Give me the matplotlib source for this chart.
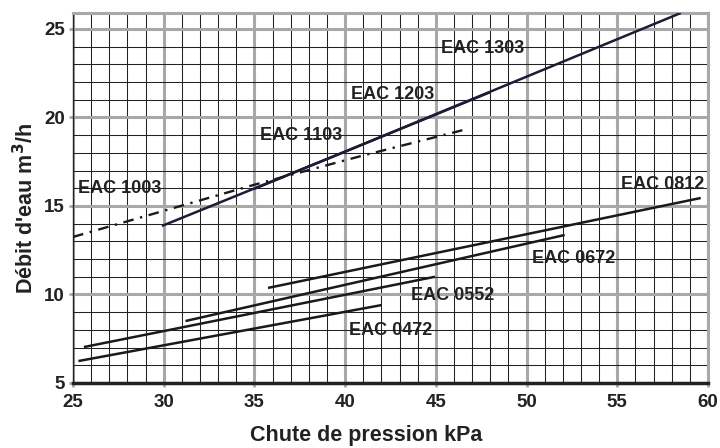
import matplotlib
matplotlib.use("Agg")
import matplotlib.pyplot as plt
from matplotlib.ticker import MultipleLocator

plt.rcParams['font.family'] = ['Liberation Sans', 'DejaVu Sans']

# ---- data ----
eac1103_x = [29.9, 40.0]
eac1103_y = [13.87, 18.07]
eac1203_x = [35.0, 48.0]
eac1203_y = [15.97, 21.43]
eac1303_x = [40.0, 58.5]
eac1303_y = [18.07, 25.9]
eac1003_x = [25.0, 35.0, 40.8, 46.55]
eac1003_y = [13.25, 16.2, 17.8, 19.3]
eac0812_x = [35.75, 59.6]
eac0812_y = [10.37, 15.45]
eac0672_x = [31.2, 52.1]
eac0672_y = [8.5, 13.36]
eac0552_x = [25.6, 44.95]
eac0552_y = [7.03, 11.0]
eac0472_x = [25.3, 42.0]
eac0472_y = [6.24, 9.4]

label_names = ["EAC 1303", "EAC 1203", "EAC 1103", "EAC 1003",
               "EAC 0812", "EAC 0672", "EAC 0552", "EAC 0472"]
label_x = [47.6, 42.6, 37.6, 27.6, 57.5, 52.6, 45.95, 42.5]
label_y = [23.9, 21.3, 19.0, 16.0, 16.2, 12.05, 9.97, 7.94]

x_ticks = [25, 30, 35, 40, 45, 50, 55, 60]
y_ticks = [5, 10, 15, 20, 25]

fig = plt.figure(figsize=(7.2, 4.48), dpi=100)
ax = fig.add_axes([0.1014, 0.1451, 0.8819, 0.8259])
ax.set_xlim(25, 60)
ax.set_ylim(5, 25.9)

major_c = '#a8a8a8'
ax.xaxis.set_minor_locator(MultipleLocator(1))
ax.yaxis.set_minor_locator(MultipleLocator(1))
ax.set_xticks(x_ticks)
ax.set_yticks(y_ticks)
ax.grid(which='minor', color='#222222', lw=0.75, zorder=1)
ax.grid(which='major', color=major_c, lw=2.2, zorder=2)
ax.set_axisbelow(True)

line_c = '#1a1a1a'
top_c = '#1c1c3a'
ax.plot(eac1103_x, eac1103_y, color=top_c, lw=1.8, zorder=4, solid_capstyle='butt')
ax.plot(eac1203_x, eac1203_y, color=top_c, lw=1.8, zorder=4, solid_capstyle='butt')
ax.plot(eac1303_x, eac1303_y, color=top_c, lw=1.8, zorder=4, solid_capstyle='butt')
ax.plot(eac1003_x, eac1003_y, color=line_c, lw=1.7, zorder=4,
        linestyle=(0, (4.5, 2.8, 1, 2.8)))
for xs, ys in [(eac0812_x, eac0812_y), (eac0672_x, eac0672_y),
               (eac0552_x, eac0552_y), (eac0472_x, eac0472_y)]:
    ax.plot(xs, ys, color=line_c, lw=1.8, zorder=4, solid_capstyle='butt')

for name, lx, ly in zip(label_names, label_x, label_y):
    ax.text(lx, ly, name, fontsize=13, fontweight='bold', color='#222222',
            ha='center', va='center', zorder=5)

for s in ['top', 'right']:
    ax.spines[s].set_color(major_c)
    ax.spines[s].set_linewidth(2.2)
ax.spines['left'].set_color('#222222')
ax.spines['left'].set_linewidth(1.0)
ax.spines['bottom'].set_color('#222222')
ax.spines['bottom'].set_linewidth(2.5)

ax.tick_params(axis='both', which='major', labelsize=13.5, colors='#222222',
               length=3, width=2, color=major_c)
ax.tick_params(axis='x', which='major', pad=5)
ax.tick_params(axis='y', which='major', pad=3)
ax.tick_params(which='minor', length=0)
for t in ax.get_xticklabels() + ax.get_yticklabels():
    t.set_fontweight('bold')

ax.set_xlabel('Chute de pression kPa', fontsize=15.5, fontweight='bold',
              color='#222222')
ax.xaxis.set_label_coords(0.461, -0.114)
ax.set_ylabel("Débit d'eau m$^\\mathbf{3}$/h", fontsize=15.5, fontweight='bold',
              color='#222222')
ax.yaxis.set_label_coords(-0.055, 0.473)

fig.savefig('out.png', dpi=100)
